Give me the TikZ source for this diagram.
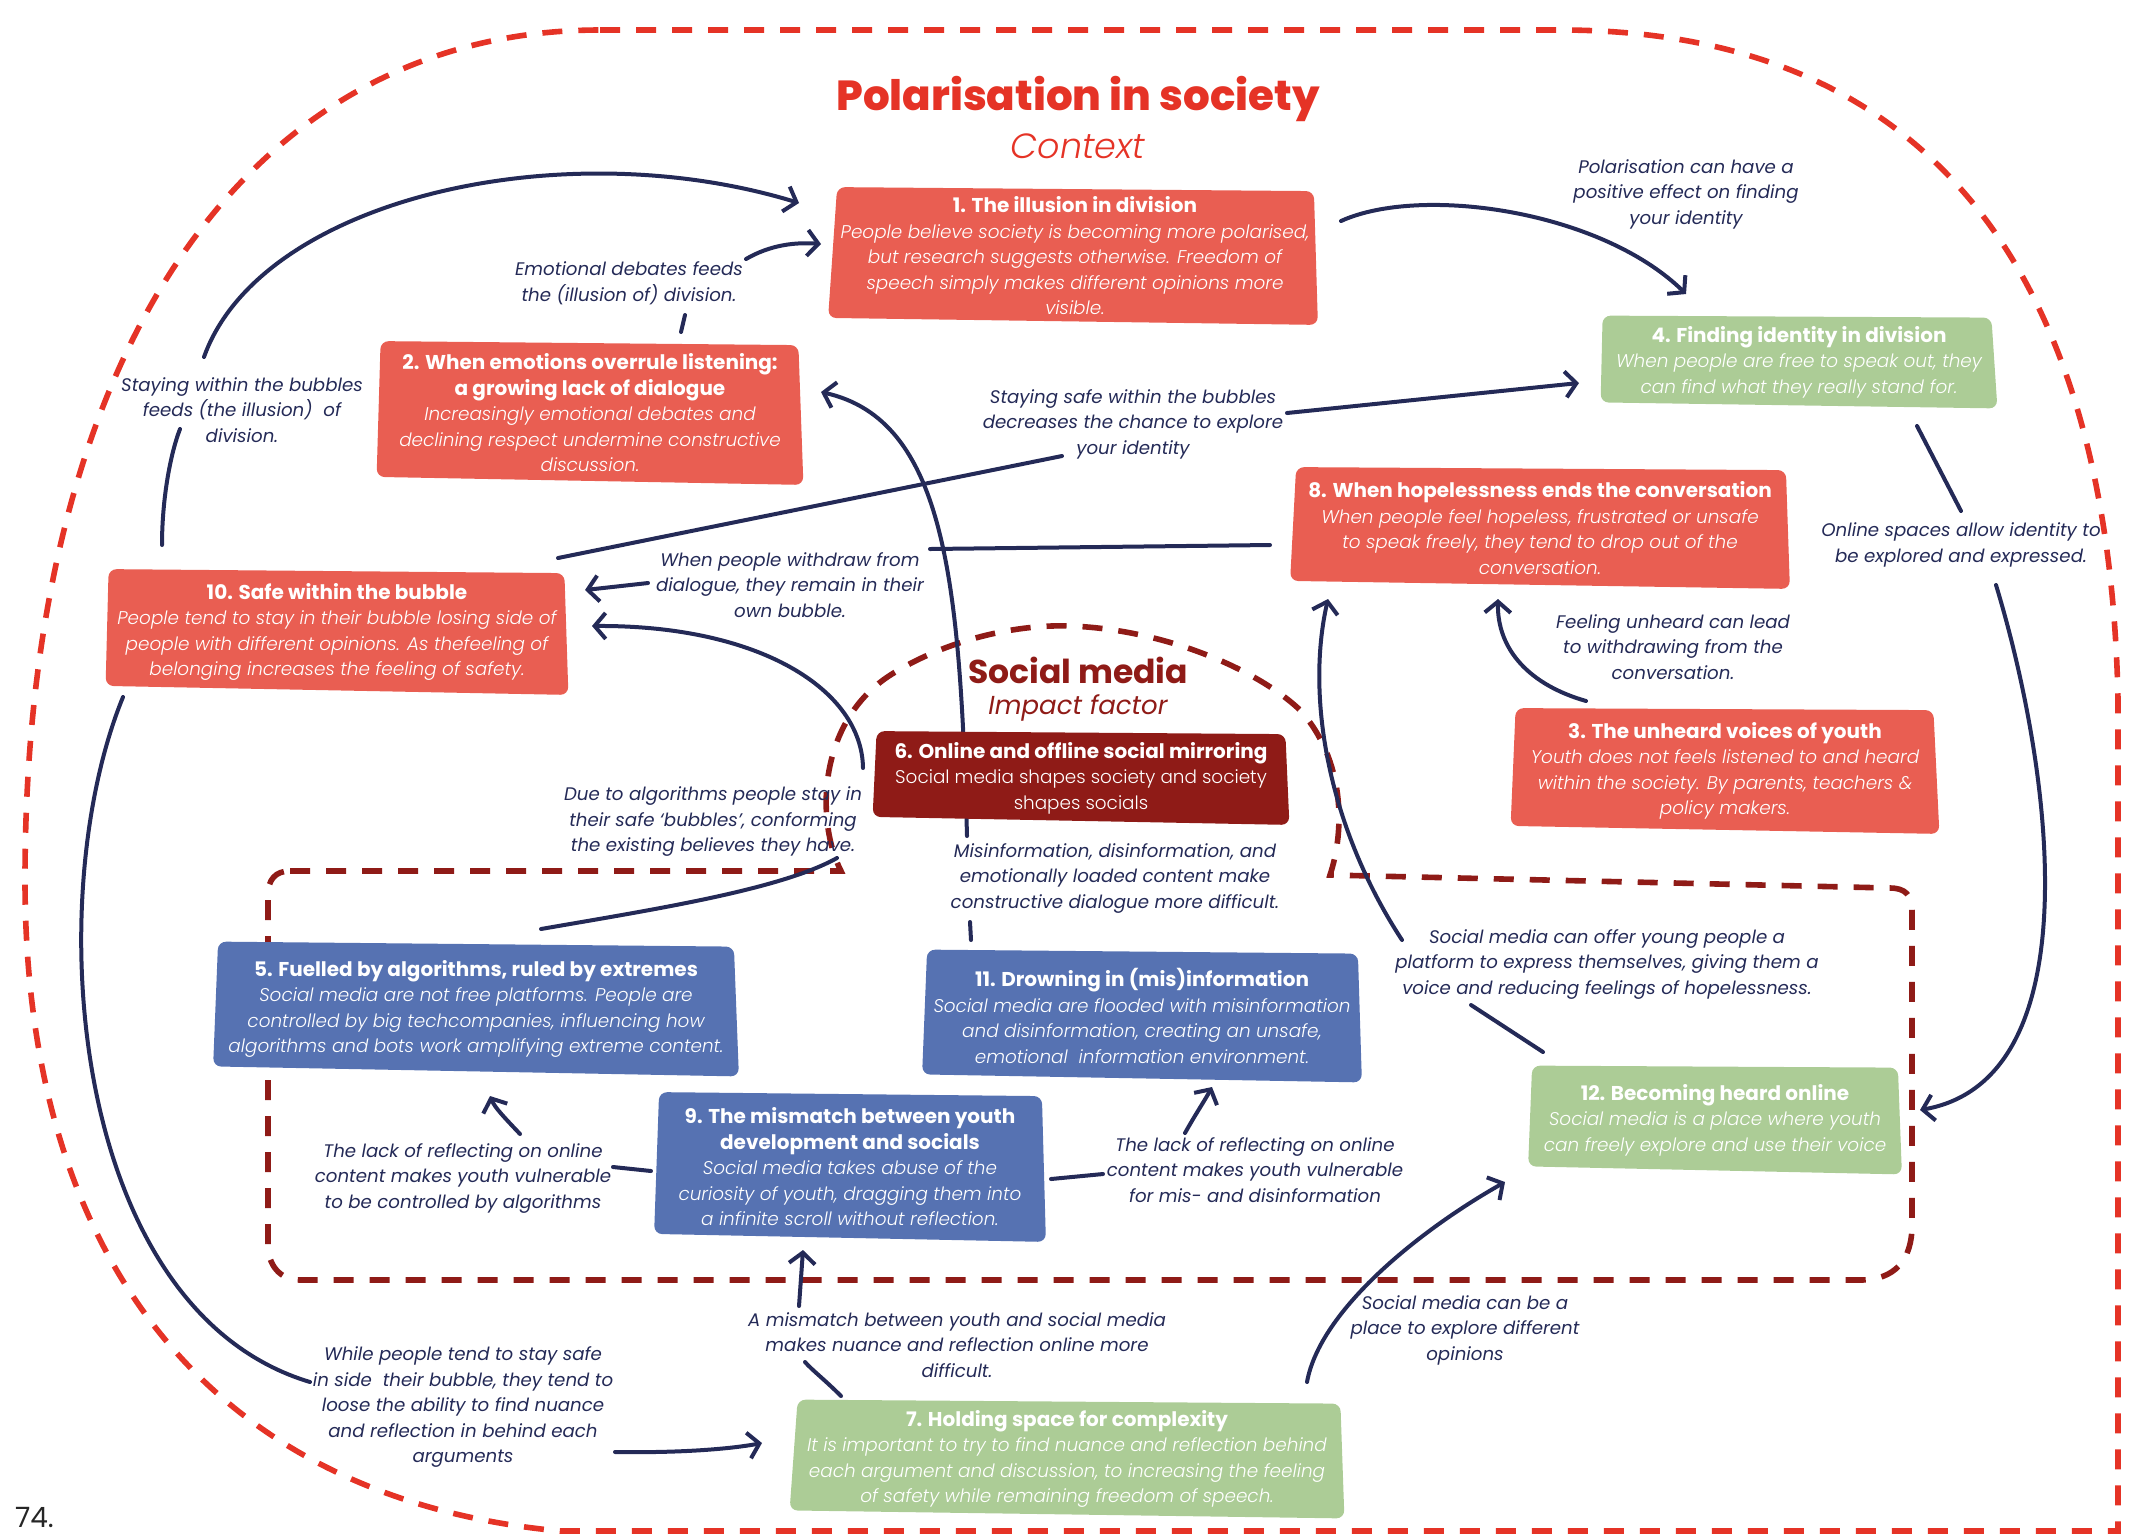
\documentclass[tikz,border=0pt]{standalone}
\usepackage{fontspec}
\setmainfont{Poppins}
\newfontfamily\lightfont{Poppins}[UprightFont=* Light, ItalicFont=* Light Italic, BoldFont=* Bold, BoldItalicFont=* Bold Italic]
\newfontfamily\heavyfont{Poppins ExtraBold}
\usetikzlibrary{arrows.meta,calc}

\pgfdeclarelayer{outline}
\pgfdeclarelayer{links}
\pgfdeclarelayer{cards}
\pgfsetlayers{outline,links,cards,main}

\definecolor{navy}{RGB}{36,42,87}
\definecolor{salmon}{RGB}{233,94,82}
\definecolor{sage}{RGB}{172,204,150}
\definecolor{steel}{RGB}{86,114,178}
\definecolor{maroon}{RGB}{143,27,23}
\definecolor{scarlet}{RGB}{229,51,38}

\newcommand\bodysize{\fontsize{9.2}{12.75}\selectfont}
\newcommand\notesize{\fontsize{9.1}{12.75}\selectfont}
\newcommand\headsize{\fontsize{10}{12.75}\selectfont}
\newcommand\hd[1]{{\upshape\bfseries\headsize #1}}

% hand-cut coloured card behind a text node: name, colour, corner offsets NW NE SE SW
\newcommand\cardfill[6]{%
  \begin{pgfonlayer}{cards}
    \fill[#2, rounded corners=4pt] ([shift={#3}]#1.north west) -- ([shift={#4}]#1.north east)
      -- ([shift={#5}]#1.south east) -- ([shift={#6}]#1.south west) -- cycle;
  \end{pgfonlayer}}

\begin{document}
\begin{tikzpicture}[x=0.5pt, y=-0.5pt,
  card/.style={align=center, text=white, inner sep=0pt, font=\lightfont\bodysize\itshape},
  note/.style={align=center, text=navy, inner sep=0pt, font=\notesize\itshape},
  link/.style={draw=navy, line width=2pt, line cap=round},
  arrowed/.style={-{Straight Barb[length=5.5pt,width=13pt]}},
  region/.style={line width=2.8pt, dash pattern=on 10pt off 8pt}]

\useasboundingbox (0,0) rectangle (2135,1533);

% ---------- titles ----------
\node[text=scarlet, font=\fontsize{21}{24}\selectfont\heavyfont] (title) at (1078,99) {Polarisation in society};
\node[text=scarlet, font=\fontsize{17.5}{20}\selectfont\lightfont\itshape] (context) at (1078,146) {Context};
\node[text=maroon, font=\fontsize{16.5}{19}\selectfont\bfseries] (smtitle) at (1078,670) {Social media};
\node[text=maroon, font=\fontsize{13}{15}\selectfont\itshape] (impact) at (1078,708) {Impact factor};
\node[anchor=base west, text=black!85, font=\fontsize{14}{16}\selectfont] (page) at (8,1527) {74.};

% ---------- cards ----------
\node[card, minimum width=242.5pt, minimum height=68.5pt] (b1) at (1075,256)
  {\hd{1. The illusion in division}\\
   People believe society is becoming more polarised,\\
   but research suggests otherwise. Freedom of\\
   speech simply makes different opinions more\\
   visible.};
\cardfill{b1}{salmon}{(5,0)}{(-4,4)}{(0,0)}{(-4,-7)}

\node[card, minimum width=213pt, minimum height=71.5pt] (b2) at (590,413)
  {\hd{2. When emotions overrule listening:}\\
   \hd{a growing lack of dialogue}\\
   Increasingly emotional debates and\\
   declining respect undermine constructive\\
   discussion.};
\cardfill{b2}{salmon}{(4,0)}{(-5,4)}{(0,0)}{(0,-8)}

\node[card, minimum width=231pt, minimum height=62.5pt] (b10) at (337,632)
  {\hd{10. Safe within the bubble}\\
   People tend to stay in their bubble losing side of\\
   people with different opinions. As thefeeling of\\
   belonging increases the feeling of safety.};
\cardfill{b10}{salmon}{(3,0)}{(-4,4)}{(0,0)}{(0,-9)}

\node[card, minimum width=198pt, minimum height=46pt] (b4) at (1799,362)
  {\hd{4. Finding identity in division}\\
   When people are free to speak out, they\\
   can find what they really stand for.};
\cardfill{b4}{sage}{(2,0)}{(-6,2)}{(0,0)}{(0,-6)}

\node[card, minimum width=249.5pt, minimum height=60.5pt] (b8) at (1540,528)
  {\hd{8. When hopelessness ends the conversation}\\
   When people feel hopeless, frustrated or unsafe\\
   to speak freely, they tend to drop out of the\\
   conversation.};
\cardfill{b8}{salmon}{(6,0)}{(-4,3)}{(0,0)}{(0,-8)}

\node[card, minimum width=214pt, minimum height=62.5pt] (b3) at (1725,771)
  {\hd{3. The unheard voices of youth}\\
   Youth does not feels listened to and heard\\
   within the society. By parents, teachers \&\\
   policy makers.};
\cardfill{b3}{salmon}{(5,0)}{(-6,2)}{(0,0)}{(0,-8)}

\node[card, font=\lightfont\bodysize\upshape, minimum width=208pt, minimum height=46.5pt] (b6) at (1081,778)
  {\hd{6. Online and offline social mirroring}\\
   Social media shapes society and society\\
   shapes socials};
\cardfill{b6}{maroon}{(4,0)}{(-4,3)}{(0,0)}{(0,-8)}

\node[card, minimum width=262.5pt, minimum height=67pt] (b5) at (476,1009)
  {\hd{5. Fuelled by algorithms, ruled by extremes}\\
   Social media are not free platforms. People are\\
   controlled by big techcompanies, influencing how\\
   algorithms and bots work amplifying extreme content.};
\cardfill{b5}{steel}{(5,0)}{(-5,5)}{(0,0)}{(0,-10)}

\node[card, minimum width=219.5pt, minimum height=66pt] (b11) at (1142,1016)
  {\hd{11. Drowning in (mis)information}\\
   Social media are flooded with misinformation\\
   and disinformation, creating an unsafe,\\
   emotional\ \ information environment.};
\cardfill{b11}{steel}{(5,0)}{(-4,4)}{(0,0)}{(0,-8)}

\node[card, minimum width=195.5pt, minimum height=74.5pt] (b9) at (850,1167)
  {\hd{9. The mismatch between youth}\\
   \hd{development and socials}\\
   Social media takes abuse of the\\
   curiosity of youth, dragging them into\\
   a infinite scroll without reflection.};
\cardfill{b9}{steel}{(5,0)}{(-4,4)}{(0,0)}{(0,-8)}

\node[card, minimum width=186.5pt, minimum height=54pt] (b12) at (1715,1120)
  {\hd{12. Becoming heard online}\\
   Social media is a place where youth\\
   can freely explore and use their voice};
\cardfill{b12}{sage}{(4,0)}{(-4,2)}{(0,0)}{(0,-8)}

\node[card, minimum width=277pt, minimum height=59pt] (b7) at (1067,1459)
  {\hd{7. Holding space for complexity}\\
   It is important to try to find nuance and reflection behind\\
   each argument and discussion, to increasing the feeling\\
   of safety while remaining freedom of speech.};
\cardfill{b7}{sage}{(8,0)}{(-4,4)}{(0,0)}{(0,-8)}

% ---------- connector labels ----------
\node[note] (lEmo) at (629,283) {Emotional debates feeds\\the (illusion of) division.};
\node[note] (lWithin) at (242,410) {Staying within the bubbles\\feeds (the illusion)\ \ of\\division.};
\node[note] (lPolar) at (1686,194) {Polarisation can have a\\positive effect on finding\\your identity};
\node[note] (lSafe) at (1133,424) {Staying safe within the bubbles\\decreases the chance to explore\\your identity};
\node[note] (lOnline) at (1961,545) {Online spaces allow identity to\\be explored and expressed.};
\node[note] (lWithdraw) at (790,585) {When people withdraw from\\dialogue, they remain in their\\own bubble.};
\node[note] (lUnheard) at (1673,647) {Feeling unheard can lead\\to withdrawing from the\\conversation.};
\node[note] (lAlgo) at (713,822) {Due to algorithms people stay in\\their safe ‘bubbles’, conforming\\the existing believes they have.};
\node[note] (lMis) at (1115,878) {Misinformation, disinformation, and\\emotionally loaded content make\\constructive dialogue more difficult.};
\node[note] (lPlatform) at (1607,964) {Social media can offer young people a\\platform to express themselves, giving them a\\voice and reducing feelings of hopelessness.};
\node[note] (lLackA) at (463,1178) {The lack of reflecting on online\\content makes youth vulnerable\\to be controlled by algorithms};
\node[note] (lLackM) at (1255,1170) {The lack of reflecting on online\\content makes youth vulnerable\\for mis- and disinformation};
\node[note] (lMismatch) at (957,1345) {A mismatch between youth and social media\\makes nuance and reflection online more\\difficult.};
\node[note] (lExplore) at (1465,1330) {Social media can be a\\place to explore different\\opinions};
\node[note] (lWhile) at (463,1407) {While people tend to stay safe\\in side\ \ their bubble, they tend to\\loose the ability to find nuance\\and reflection in behind each\\arguments};

% ---------- dashed regions ----------
\begin{pgfonlayer}{outline}
  % society
  \draw[region, scarlet] (600,30) -- (1560,30) .. controls (1950,30) and (2110,300) .. (2118,700)
    -- (2118,1531) -- (560,1531) .. controls (230,1500) and (25,1280) .. (25,880)
    .. controls (25,350) and (250,30) .. (600,30) -- cycle;
  % social media
  \draw[region, maroon] (290,871) -- (841,871) .. controls (815,820) and (818,720) .. (892,674)
    .. controls (950,638) and (1020,624) .. (1071,626) .. controls (1170,630) and (1260,672) .. (1300,710)
    .. controls (1345,760) and (1345,830) .. (1330,875) -- (1890,888)
    .. controls (1905,888) and (1912,895) .. (1912,910) -- (1912,1225)
    .. controls (1912,1260) and (1895,1280) .. (1860,1280) -- (300,1280)
    .. controls (280,1280) and (268,1265) .. (268,1245) -- (268,895)
    .. controls (268,880) and (275,871) .. (290,871) -- cycle;
\end{pgfonlayer}

% ---------- connectors ----------
\begin{pgfonlayer}{links}
  % 10 -> 1
  \draw[link] ([shift={(-175,-87)}]b10.center) .. controls (162,500) and (170,455) .. ([shift={(-62,19)}]lWithin.center);
  \draw[link, arrowed] ([shift={(-38,-53)}]lWithin.center) .. controls (260,200) and (560,130) .. ([shift={(-276,-53)}]b1.center);
  % 2 -> 1
  \draw[link] ([shift={(91,-81)}]b2.center) -- ([shift={(56,32)}]lEmo.center);
  \draw[link, arrowed] ([shift={(117,-24)}]lEmo.center) .. controls (770,245) and (795,242) .. ([shift={(-254,-12)}]b1.center);
  % 1 -> 4
  \draw[link, arrowed] ([shift={(266,-35)}]b1.center) .. controls (1420,185) and (1600,210) .. ([shift={(-113,-68)}]b4.center);
  % 10 -> 4
  \draw[link] ([shift={(221,-74)}]b10.center) -- ([shift={(-71,32)}]lSafe.center);
  \draw[link, arrowed] ([shift={(154,-11)}]lSafe.center) -- ([shift={(-220,21)}]b4.center);
  % 8 -> 10
  \draw[link] ([shift={(-270,17)}]b8.center) -- ([shift={(140,-36)}]lWithdraw.center);
  \draw[link, arrowed] ([shift={(-142,-2)}]lWithdraw.center) -- ([shift={(248,-42)}]b10.center);
  % 11 -> 2 (behind 6)
  \draw[link] ([shift={(-171,-76)}]b11.center) -- ([shift={(-145,44)}]lMis.center);
  \draw[link, arrowed] ([shift={(-148,-42)}]lMis.center) .. controls (960,580) and (945,420) .. ([shift={(231,-21)}]b2.center);
  % 5 -> 10
  \draw[link] ([shift={(65,-80)}]b5.center) .. controls (650,910) and (780,890) .. ([shift={(124,36)}]lAlgo.center);
  \draw[link, arrowed] ([shift={(150,-54)}]lAlgo.center) .. controls (862,690) and (760,625) .. ([shift={(255,-6)}]b10.center);
  % 10 -> 7
  \draw[link] ([shift={(-214,65)}]b10.center) .. controls (40,900) and (70,1310) .. ([shift={(-153,-25)}]lWhile.center);
  \draw[link, arrowed] ([shift={(152,45)}]lWhile.center) .. controls (680,1453) and (730,1449) .. ([shift={(-305,-16)}]b7.center);
  % 3 -> 8
  \draw[link, arrowed] ([shift={(-139,-70)}]b3.center) .. controls (1530,685) and (1497,650) .. ([shift={(-42,71)}]b8.center);
  % 4 -> 12
  \draw[link] ([shift={(118,64)}]b4.center) -- ([shift={(0,-34)}]lOnline.center);
  \draw[link, arrowed] ([shift={(35,40)}]lOnline.center) .. controls (2055,780) and (2090,1080) .. ([shift={(205,-10)}]b12.center);
  % 12 -> 8
  \draw[link] ([shift={(-172,-68)}]b12.center) -- ([shift={(-136,41)}]lPlatform.center);
  \draw[link, arrowed] ([shift={(-205,-24)}]lPlatform.center) .. controls (1330,830) and (1305,700) .. ([shift={(-212,71)}]b8.center);
  % 7 -> 12
  \draw[link, arrowed] ([shift={(240,-77)}]b7.center) .. controls (1320,1310) and (1420,1230) .. ([shift={(-210,62)}]b12.center);
  % 7 -> 9
  \draw[link] ([shift={(-226,-63)}]b7.center) .. controls (825,1380) and (812,1370) .. ([shift={(-152,17)}]lMismatch.center);
  \draw[link, arrowed] ([shift={(-158,-39)}]lMismatch.center) -- ([shift={(-47,83)}]b9.center);
  % 9 -> 5
  \draw[link] ([shift={(-199,4)}]b9.center) -- ([shift={(150,-11)}]lLackA.center);
  \draw[link, arrowed] ([shift={(57,-44)}]lLackA.center) .. controls (505,1118) and (495,1108) .. ([shift={(14,87)}]b5.center);
  % 9 -> 11
  \draw[link] ([shift={(201,12)}]b9.center) -- ([shift={(-152,4)}]lLackM.center);
  \draw[link, arrowed] ([shift={(-70,-37)}]lLackM.center) .. controls (1195,1115) and (1205,1100) .. ([shift={(70,71)}]b11.center);
\end{pgfonlayer}

\end{tikzpicture}
\end{document}
